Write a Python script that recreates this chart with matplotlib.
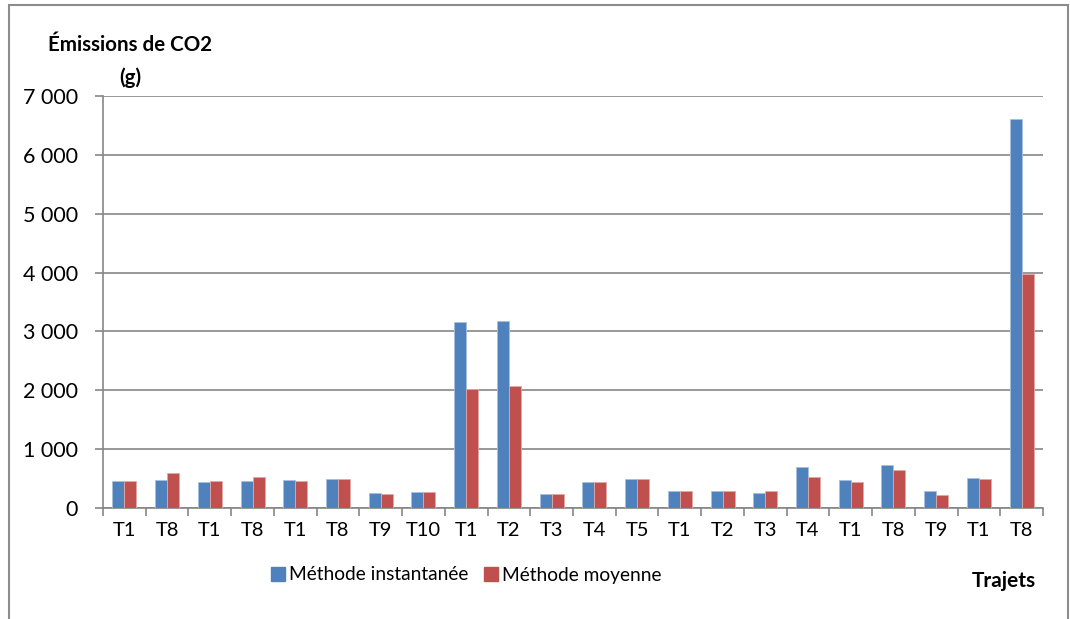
import numpy as np
import matplotlib
matplotlib.use("Agg")
import matplotlib.pyplot as plt
from matplotlib.patches import Rectangle, Patch
from matplotlib.ticker import FuncFormatter, FixedLocator

plt.rcParams["font.family"] = ["Lato", "DejaVu Sans"]

trajets = ["T1", "T8", "T1", "T8", "T1", "T8", "T9", "T10", "T1", "T2", "T3",
           "T4", "T5", "T1", "T2", "T3", "T4", "T1", "T8", "T9", "T1", "T8"]
instantanee = [458, 475, 446, 463, 475, 492, 249, 266, 3165, 3182, 243,
               446, 486, 294, 282, 260, 695, 475, 729, 288, 508, 6612]
moyenne = [463, 599, 463, 531, 458, 492, 237, 266, 2023, 2080, 232,
           446, 492, 294, 282, 288, 531, 446, 644, 226, 497, 3972]

BLUE = "#4F81BD"
RED = "#C0504D"
GRID = "#868686"

W, H = 1070, 619
fig = plt.figure(figsize=(W / 100, H / 100), dpi=100)
ax = fig.add_axes([103 / W, 1 - 508 / H, 940 / W, 412 / H])

x = np.arange(len(trajets))
bw = 0.28
ax.bar(x - bw / 2, instantanee, bw, color=BLUE, edgecolor="#A7C0DE", linewidth=0.6, zorder=3)
ax.bar(x + bw / 2, moyenne, bw, color=RED, edgecolor="#E0A9A7", linewidth=0.6, zorder=3)

ax.set_xlim(-0.5, len(trajets) - 0.5)
ax.set_ylim(0, 7000)
ax.set_yticks(np.arange(0, 7001, 1000))
ax.yaxis.set_major_formatter(FuncFormatter(lambda v, p: f"{int(v):,}".replace(",", " ")))
ax.grid(axis="y", color=GRID, linewidth=1.2, zorder=0)

ax.set_xticks(x)
ax.set_xticklabels(trajets)
ax.xaxis.set_minor_locator(FixedLocator(np.arange(-0.5, len(trajets), 1.0)))
ax.tick_params(axis="x", which="major", length=0, pad=10, labelsize=14.5)
ax.tick_params(axis="x", which="minor", length=6, width=1.2, color=GRID)
ax.tick_params(axis="y", length=6, width=1.2, color=GRID, pad=12, labelsize=15.5)

for side in ("top", "right"):
    ax.spines[side].set_visible(False)
for side in ("left", "bottom"):
    ax.spines[side].set_color(GRID)
    ax.spines[side].set_linewidth(1.2)

# chart frame
fig.patches.append(Rectangle((9 / W, -0.05), 1059 / W, 1.05 - 5 / H,
                             transform=fig.transFigure, fill=False,
                             edgecolor="#8C8C8C", linewidth=1.5))

fig.text(130 / W, 1 - 45 / H, "Émissions de CO2", ha="center", va="center",
         fontsize=14.8, fontweight="bold")
fig.text(130 / W, 1 - 78 / H, "(g)", ha="center", va="center",
         fontsize=14.8, fontweight="bold")
fig.text(1004 / W, 1 - 581 / H, "Trajets", ha="center", va="center",
         fontsize=15, fontweight="bold")

handles = [Patch(color=BLUE), Patch(color=RED)]
fig.legend(handles, ["Méthode instantanée", "Méthode moyenne"],
           loc="center", bbox_to_anchor=(466 / W, 1 - 575 / H), ncol=2,
           frameon=False, fontsize=13.8, handlelength=0.75, handleheight=0.75,
           handletextpad=0.2, columnspacing=0.8, borderpad=0)

fig.savefig("out.png", dpi=100)
